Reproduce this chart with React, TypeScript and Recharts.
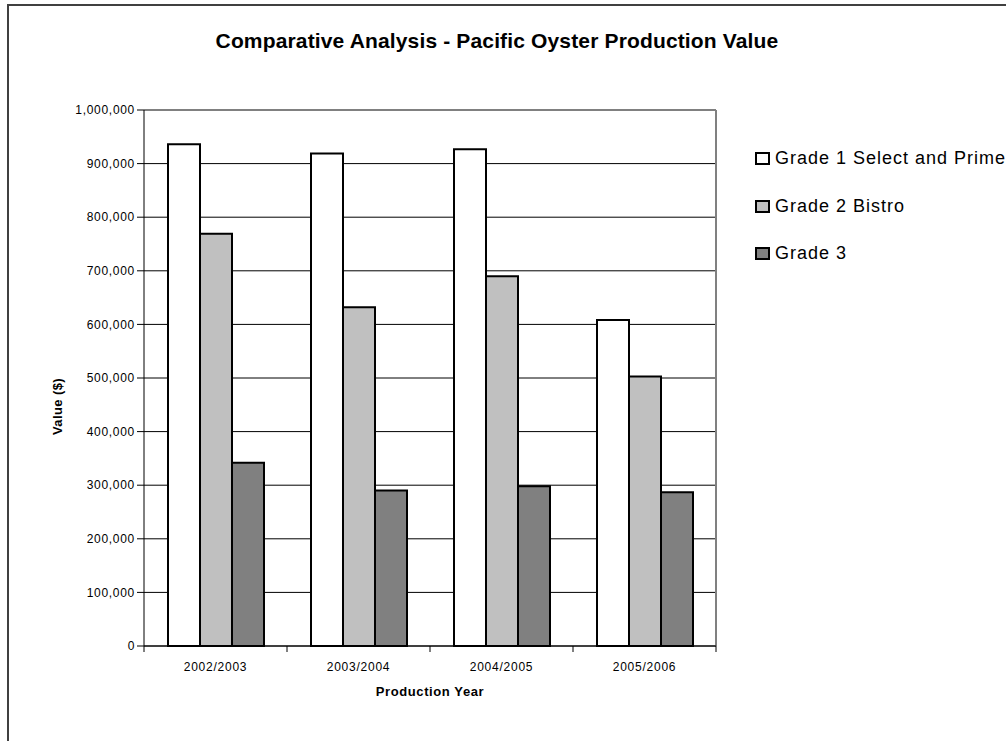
import { BarChart, Bar, XAxis, YAxis, CartesianGrid, ReferenceLine } from "recharts"

const years = ["2002/2003", "2003/2004", "2004/2005", "2005/2006"]
const grade1 = [936000, 919000, 927000, 608000]
const grade2 = [769000, 632000, 690000, 503000]
const grade3 = [342000, 290000, 298000, 287000]
const yTicks = [0, 100000, 200000, 300000, 400000, 500000, 600000, 700000, 800000, 900000, 1000000]

const seriesNames = ["Grade 1 Select and Prime", "Grade 2 Bistro", "Grade 3"]
const seriesColors = ["#ffffff", "#c0c0c0", "#808080"]

const data = years.map((year, i) => ({
  year,
  g1: grade1[i],
  g2: grade2[i],
  g3: grade3[i],
}))

const FONT = "'Liberation Sans', Arial, sans-serif"
const BAND = 143

function fmt(v: number) {
  return v.toLocaleString("en-US")
}

function XTick(props: any) {
  const { x, y, payload, index } = props
  return (
    <g>
      {index === 0 && <line x1={x - BAND / 2} x2={x - BAND / 2} y1={y - 8} y2={y - 2} stroke="#000" />}
      <line x1={x + BAND / 2} x2={x + BAND / 2} y1={y - 8} y2={y - 2} stroke="#000" />
      <text x={x} y={y + 17} textAnchor="middle" fontSize={12} letterSpacing={0.75} fontFamily={FONT} fill="#000">
        {payload.value}
      </text>
    </g>
  )
}

function LegendBox() {
  return (
    <div style={{ position: "absolute", left: 755, top: 135, fontFamily: FONT, fontSize: 18, letterSpacing: 1, color: "#000" }}>
      {seriesNames.map((name, i) => (
        <div key={name} style={{ display: "flex", alignItems: "center", height: 47.5, whiteSpace: "nowrap" }}>
          <span
            style={{
              display: "inline-block",
              width: 11,
              height: 9,
              border: "2px solid #000",
              background: seriesColors[i],
              marginRight: 5,
            }}
          />
          {name}
        </div>
      ))}
    </div>
  )
}

export default function App() {
  return (
    <div style={{ position: "absolute", left: 0, top: 0, width: 1006, height: 741, overflow: "hidden", background: "#fff" }}>
      <div
        style={{
          position: "absolute",
          left: 7,
          top: 4,
          width: 1100,
          height: 800,
          border: "2px solid #404040",
        }}
      />
      <div
        style={{
          position: "absolute",
          left: 0,
          top: 29,
          width: 994,
          textAlign: "center",
          fontFamily: FONT,
          fontWeight: "bold",
          fontSize: 21,
          letterSpacing: 0.15,
        }}
      >
        Comparative Analysis - Pacific Oyster Production Value
      </div>
      <div style={{ position: "absolute", left: 0, top: 0 }}>
        <BarChart
          width={1006}
          height={741}
          data={data}
          margin={{ top: 110, right: 290, left: 64, bottom: 65 }}
          barCategoryGap={24}
          barGap={0}
        >
          <CartesianGrid vertical={false} stroke="#000" />
          <XAxis
            dataKey="year"
            height={30}
            stroke="#000"
            tickLine={false}
            interval={0}
            tick={<XTick />}
            label={{
              value: "Production Year",
              position: "bottom",
              offset: 11,
              fontSize: 13,
              letterSpacing: 0.6,
              fontWeight: "bold",
              fontFamily: FONT,
              fill: "#000",
            }}
          />
          <YAxis
            width={80}
            domain={[0, 1000000]}
            ticks={yTicks}
            tickFormatter={fmt}
            stroke="#000"
            tickSize={7}
            tick={{ fontSize: 12, letterSpacing: 0.7, fontFamily: FONT, fill: "#000" }}
            label={{
              value: "Value ($)",
              angle: -90,
              position: "left",
              offset: 7,
              fontSize: 13,
              letterSpacing: 0.4,
              fontWeight: "bold",
              fontFamily: FONT,
              fill: "#000",
            }}
          />
          <ReferenceLine y={1000000} stroke="#808080" strokeWidth={2} />
          <ReferenceLine x={years[years.length - 1]} position="end" stroke="#808080" strokeWidth={2} />
          <Bar dataKey="g1" name={seriesNames[0]} fill={seriesColors[0]} stroke="#000" strokeWidth={2} isAnimationActive={false} />
          <Bar dataKey="g2" name={seriesNames[1]} fill={seriesColors[1]} stroke="#000" strokeWidth={2} isAnimationActive={false} />
          <Bar dataKey="g3" name={seriesNames[2]} fill={seriesColors[2]} stroke="#000" strokeWidth={2} isAnimationActive={false} />
        </BarChart>
      </div>
      <LegendBox />
    </div>
  )
}
